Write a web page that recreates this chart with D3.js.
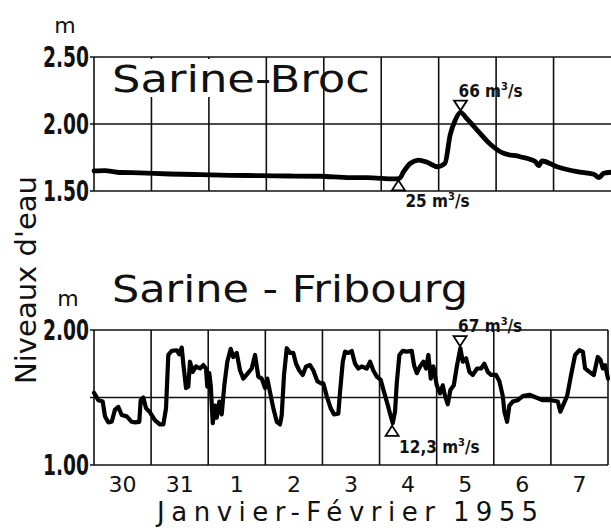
<!DOCTYPE html>
<html>
<head>
<meta charset="utf-8">
<script src="https://cdn.jsdelivr.net/npm/d3@7/dist/d3.min.js"></script>
<style>
  body { margin: 0; background: #fff; }
  svg { display: block; }
</style>
</head>
<body>
<svg id="chart"></svg>
<script>
const width = 611;
const height = 528;

// days counted from 30 January 00h
const dayLabels = ["30", "31", "1", "2", "3", "4", "5", "6", "7"];
const topTicks = [1.5, 2.0, 2.5];
const bottomTicks = [1.0, 2.0];

const brocDays = [0, 0.19, 0.40, 0.80, 1.32, 1.85, 2.37, 2.89, 3.41, 3.94, 4.46, 4.75, 5.24, 5.32, 5.39, 5.51,
    5.65, 5.80, 5.98, 6.11, 6.20, 6.29, 6.38, 6.49, 6.67, 6.90, 7.13, 7.42, 7.68, 7.74, 7.80, 8.06, 8.41,
    8.70, 8.79, 8.87, 9.0];
const brocLevels = [1.65, 1.652, 1.64, 1.635, 1.627, 1.622, 1.617, 1.615, 1.612, 1.61, 1.60, 1.60, 1.59, 1.595,
    1.644, 1.707, 1.73, 1.714, 1.681, 1.707, 1.918, 2.03, 2.087, 2.04, 1.955, 1.849, 1.781, 1.756, 1.72,
    1.689, 1.724, 1.681, 1.644, 1.625, 1.60, 1.632, 1.64];

const fribDays = [0, 0.035, 0.075, 0.152, 0.193, 0.250, 0.310, 0.368, 0.426, 0.485,
    0.573, 0.660, 0.718, 0.793, 0.818, 0.863, 0.911, 0.981, 1.068, 1.156,
    1.214, 1.261, 1.301, 1.361, 1.448, 1.494, 1.536, 1.564, 1.611, 1.651,
    1.681, 1.729, 1.786, 1.856, 1.914, 1.961, 1.984, 2.019, 2.044, 2.079,
    2.119, 2.149, 2.194, 2.236, 2.282, 2.334, 2.394, 2.440, 2.499, 2.557,
    2.615, 2.674, 2.762, 2.820, 2.877, 2.937, 2.995, 3.035, 3.082, 3.140,
    3.200, 3.257, 3.287, 3.327, 3.375, 3.433, 3.490, 3.538, 3.595, 3.655,
    3.713, 3.783, 3.841, 3.911, 3.970, 4.016, 4.075, 4.145, 4.203, 4.278,
    4.308, 4.356, 4.396, 4.454, 4.513, 4.571, 4.629, 4.688, 4.776, 4.834,
    4.891, 4.951, 5.021, 5.079, 5.137, 5.184, 5.231, 5.271, 5.301, 5.347,
    5.406, 5.476, 5.564, 5.604, 5.651, 5.709, 5.767, 5.814, 5.855, 5.897,
    5.942, 6.002, 6.060, 6.107, 6.147, 6.195, 6.240, 6.300, 6.357, 6.415,
    6.457, 6.515, 6.573, 6.632, 6.708, 6.778, 6.835, 6.895, 6.953, 7.040,
    7.098, 7.158, 7.186, 7.233, 7.273, 7.333, 7.420, 7.508, 7.623, 7.741,
    7.858, 8.004, 8.121, 8.166, 8.226, 8.284, 8.354, 8.424, 8.499, 8.559,
    8.599, 8.674, 8.751, 8.821, 8.867, 8.909, 8.949, 9.0];
const fribLevels = [1.535, 1.51, 1.48, 1.47, 1.36, 1.316, 1.32, 1.41, 1.43, 1.37,
    1.36, 1.32, 1.316, 1.32, 1.48, 1.50, 1.42, 1.39, 1.33, 1.30,
    1.30, 1.42, 1.815, 1.845, 1.85, 1.82, 1.87, 1.75, 1.57, 1.58,
    1.765, 1.69, 1.73, 1.715, 1.74, 1.715, 1.58, 1.68, 1.59, 1.31,
    1.44, 1.35, 1.47, 1.375, 1.59, 1.765, 1.86, 1.80, 1.83, 1.70,
    1.64, 1.67, 1.715, 1.815, 1.655, 1.64, 1.57, 1.64, 1.54, 1.42,
    1.32, 1.30, 1.37, 1.667, 1.865, 1.83, 1.83, 1.75, 1.70, 1.667,
    1.73, 1.74, 1.70, 1.62, 1.605, 1.605, 1.51, 1.42, 1.375, 1.38,
    1.54, 1.765, 1.84, 1.83, 1.845, 1.75, 1.715, 1.73, 1.715, 1.765,
    1.70, 1.655, 1.63, 1.54, 1.455, 1.38, 1.31, 1.395, 1.605, 1.815,
    1.845, 1.84, 1.845, 1.74, 1.68, 1.73, 1.765, 1.715, 1.815, 1.64,
    1.73, 1.59, 1.53, 1.59, 1.51, 1.45, 1.555, 1.59, 1.74, 1.865,
    1.765, 1.79, 1.69, 1.667, 1.715, 1.715, 1.75, 1.69, 1.667, 1.667,
    1.62, 1.51, 1.395, 1.32, 1.44, 1.47, 1.48, 1.51, 1.52, 1.50,
    1.48, 1.48, 1.47, 1.395, 1.455, 1.51, 1.667, 1.815, 1.85, 1.84,
    1.715, 1.69, 1.667, 1.80, 1.78, 1.715, 1.74, 1.64];

// flow marks: [day, level, label, up/down]
const brocMarks = [[5.30, 1.58, "25", "up"], [6.38, 2.10, "66", "down"]];
const fribMarks = [[5.22, 1.29, "12,3", "up"], [6.41, 1.88, "67", "down"]];

const lightFont = "'DejaVu Sans', sans-serif";
const boldFont = "'Liberation Sans Narrow', 'DejaVu Sans Condensed', sans-serif";

const svg = d3.select("#chart")
    .attr("width", width)
    .attr("height", height);

svg.append("rect").attr("width", width).attr("height", height).attr("fill", "#fff");

const xTop = d3.scaleLinear().domain([0, 9]).range([94, 611]);
const yTop = d3.scaleLinear().domain([1.5, 2.5]).range([191, 57]);
const xBot = d3.scaleLinear().domain([0, 9]).range([94, 608]);
const yBot = d3.scaleLinear().domain([1.0, 2.0]).range([465, 330]);

function drawPanel(x, y, hTicks, ticks, days, levels, marks, curve, showRight, lineWidth) {
    const g = svg.append("g");
    const [y0, y1] = y.range();

    // horizontal grid lines
    g.selectAll(".hgrid")
        .data(hTicks)
        .join("line")
        .attr("x1", x(0) - 4)
        .attr("x2", x(9))
        .attr("y1", d => y(d))
        .attr("y2", d => y(d))
        .attr("stroke", "#111")
        .attr("stroke-width", 1.6);

    // day separators
    const vdays = d3.range(0, showRight ? 10 : 9);
    g.selectAll(".vgrid")
        .data(vdays)
        .join("line")
        .attr("x1", d => x(d))
        .attr("x2", d => x(d))
        .attr("y1", y1)
        .attr("y2", y0)
        .attr("stroke", "#111")
        .attr("stroke-width", 1.6);

    // axis labels
    const axis = g.append("g")
        .attr("transform", `translate(${x(0) - 4},0)`)
        .call(d3.axisLeft(y).tickValues(ticks).tickSize(0).tickPadding(1).tickFormat(d3.format(".2f")));
    axis.select(".domain").remove();
    axis.selectAll("text")
        .attr("font-family", boldFont)
        .attr("font-weight", "bold")
        .attr("font-size", 29)
        .attr("fill", "#111")
        .attr("textLength", 46)
        .attr("lengthAdjust", "spacingAndGlyphs");

    const line = d3.line()
        .x(d => x(d[0]))
        .y(d => y(d[1]))
        .curve(curve);

    g.append("path")
        .attr("d", line(d3.zip(days, levels)))
        .attr("fill", "none")
        .attr("stroke", "#000")
        .attr("stroke-width", lineWidth)
        .attr("stroke-linejoin", "round")
        .attr("stroke-linecap", "round");

    // flow triangles and labels
    marks.forEach(([d, v, q, dir]) => {
        const cx = x(d), cy = y(v);
        const pts = dir === "up"
            ? [[cx, cy], [cx - 6.5, cy + 10], [cx + 6.5, cy + 10]]
            : [[cx, cy], [cx - 6.5, cy - 10], [cx + 6.5, cy - 10]];
        g.append("polygon")
            .attr("points", pts.map(p => p.join(",")).join(" "))
            .attr("fill", "#fff")
            .attr("stroke", "#000")
            .attr("stroke-width", 1.8);
        const tx = dir === "up" ? cx + 7 : cx - 2;
        const ty = dir === "up" ? cy + 27 : cy - 14;
        const t = g.append("text")
            .attr("x", tx)
            .attr("y", ty)
            .attr("font-family", boldFont)
            .attr("font-weight", "bold")
            .attr("font-size", 17)
            .attr("fill", "#111");
        t.append("tspan").text(q + " m");
        t.append("tspan").attr("dy", -7).attr("font-size", 11).text("3");
        t.append("tspan").attr("dy", 7).text("/s");
    });
    return g;
}

const topPanel = drawPanel(xTop, yTop, topTicks, topTicks, brocDays, brocLevels, brocMarks, d3.curveMonotoneX, false, 4.8);
// mask behind the upper title
topPanel.insert("rect", "path")
    .attr("x", xTop(0) + 2)
    .attr("y", yTop(2.5) + 2)
    .attr("width", xTop(3) - xTop(0) - 5)
    .attr("height", 38)
    .attr("fill", "#fff");

drawPanel(xBot, yBot, [1.0, 1.5, 2.0], bottomTicks, fribDays, fribLevels, fribMarks, d3.curveLinear, true, 4.2);

// titles
svg.append("text")
    .attr("x", 112).attr("y", 92)
    .attr("font-family", lightFont).attr("font-size", 38).attr("fill", "#111")
    .attr("textLength", 258).attr("lengthAdjust", "spacingAndGlyphs")
    .text("Sarine-Broc");

svg.append("text")
    .attr("x", 112).attr("y", 302)
    .attr("font-family", lightFont).attr("font-size", 38).attr("fill", "#111")
    .attr("textLength", 356).attr("lengthAdjust", "spacingAndGlyphs")
    .text("Sarine - Fribourg");

// units
svg.append("text")
    .attr("x", 65).attr("y", 33)
    .attr("text-anchor", "middle")
    .attr("font-family", lightFont).attr("font-size", 22).attr("fill", "#111")
    .text("m");
svg.append("text")
    .attr("x", 68).attr("y", 306)
    .attr("text-anchor", "middle")
    .attr("font-family", lightFont).attr("font-size", 22).attr("fill", "#111")
    .text("m");

// y axis title
svg.append("text")
    .attr("transform", "translate(36,280) rotate(-90)")
    .attr("text-anchor", "middle")
    .attr("font-family", lightFont).attr("font-size", 28).attr("fill", "#111")
    .attr("textLength", 208).attr("lengthAdjust", "spacingAndGlyphs")
    .text("Niveaux d'eau");

// day labels
svg.append("g")
    .selectAll("text")
    .data(dayLabels)
    .join("text")
    .attr("x", (d, i) => xBot(i + 0.5))
    .attr("y", 492)
    .attr("text-anchor", "middle")
    .attr("font-family", lightFont)
    .attr("font-size", 22)
    .attr("fill", "#111")
    .text(d => d);

// date caption
svg.append("text")
    .attr("x", 157).attr("y", 521)
    .attr("font-family", lightFont).attr("font-size", 26).attr("fill", "#111")
    .attr("textLength", 278).attr("lengthAdjust", "spacing")
    .text("Janvier-Février");
svg.append("text")
    .attr("x", 453).attr("y", 521)
    .attr("font-family", lightFont).attr("font-size", 26).attr("fill", "#111")
    .attr("textLength", 85).attr("lengthAdjust", "spacing")
    .text("1955");
</script>
</body>
</html>
